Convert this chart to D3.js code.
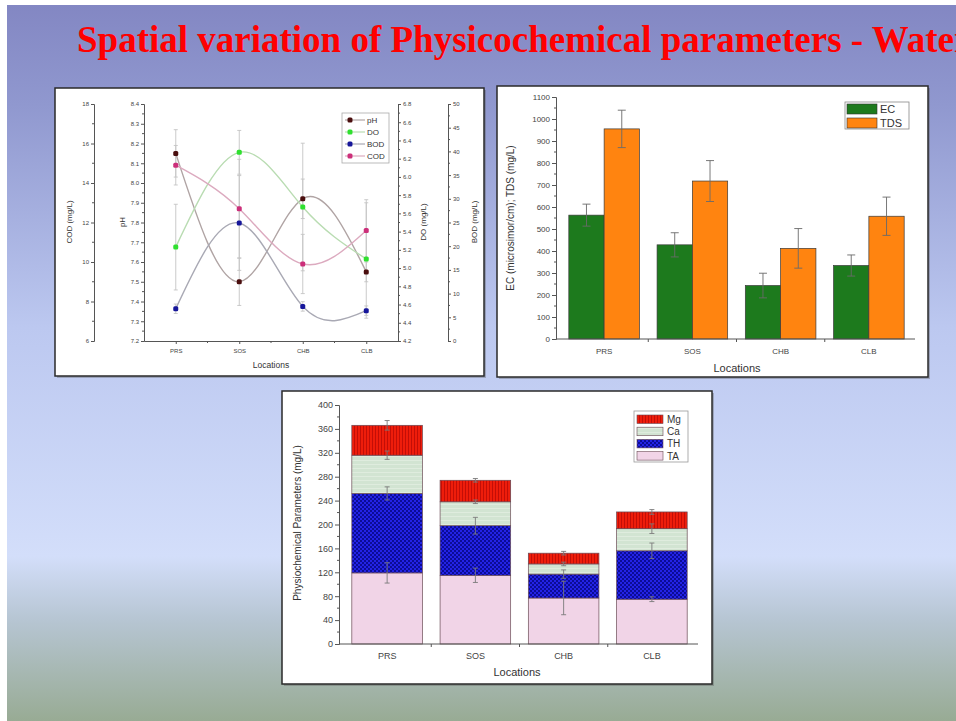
<!DOCTYPE html>
<html><head><meta charset="utf-8">
<script src="https://cdn.jsdelivr.net/npm/d3@7"></script>
<style>body{margin:0;background:#fff}svg{display:block}</style>
</head><body><svg id="c" width="956" height="721"></svg>
<script>
// ---------- data ----------
const locations = ["PRS", "SOS", "CHB", "CLB"];
const titleText = "Spatial variation of Physicochemical parameters - Water";

// panel 1 (line chart, four y axes)
const pH = [8.15, 7.50, 7.92, 7.55];
const pHErr = [0.12, 0.12, 0.10, 0.05];
const DO = [5.23, 6.27, 5.67, 5.10];
const DOErr = [0.47, 0.24, 0.70, 0.65];
const BOD = [6.8, 24.9, 7.3, 6.4];
const BODErr = [1, 10, 1, 1];
const COD = [14.9, 12.7, 9.9, 11.6];
const CODErr = [1.0, 2.5, 1.5, 1.4];
const codTicks = [6, 8, 10, 12, 14, 16, 18];
const pHTicks = [7.2, 7.3, 7.4, 7.5, 7.6, 7.7, 7.8, 7.9, 8.0, 8.1, 8.2, 8.3, 8.4];
const doTicks = [4.2, 4.4, 4.6, 4.8, 5.0, 5.2, 5.4, 5.6, 5.8, 6.0, 6.2, 6.4, 6.6, 6.8];
const bodTicks = [0, 5, 10, 15, 20, 25, 30, 35, 40, 45, 50];

// panel 2 (grouped bars)
const EC = [563, 428, 243, 334];
const ECErr = [50, 55, 56, 48];
const TDS = [955, 718, 412, 558];
const TDSErr = [85, 93, 90, 87];
const ecTicks = [0, 100, 200, 300, 400, 500, 600, 700, 800, 900, 1000, 1100];

// panel 3 (stacked bars) – segment values
const TA = [119, 115, 77, 75];
const TAErr = [17, 12, 28, 4];
const TH = [133, 83, 40, 81];
const THErr = [11, 14, 7, 13];
const Ca = [64, 40, 17, 37];
const CaErr = [7, 3, 3, 8];
const Mg = [50, 36, 18, 28];
const MgErr = [8, 3, 3, 4];
const stackTicks = [0, 40, 80, 120, 160, 200, 240, 280, 320, 360, 400];

// ---------- drawing ----------
const svg = d3.select("#c");
const defs = svg.append("defs");
const SANS = "Liberation Sans, Arial, sans-serif";

const grad = defs.append("linearGradient").attr("id", "bg").attr("x1", 0).attr("y1", 0).attr("x2", 0).attr("y2", 1);
[["0%", "#8387c3"], ["14%", "#9098cf"], ["45%", "#bcc8f0"], ["77%", "#d3defa"], ["86%", "#b6c5d2"], ["100%", "#98ab94"]]
  .forEach(([o, c]) => grad.append("stop").attr("offset", o).attr("stop-color", c));

svg.append("rect").attr("width", 956).attr("height", 721).attr("fill", "#fff");
svg.append("rect").attr("x", 7).attr("y", 5).attr("width", 949).attr("height", 716).attr("fill", "url(#bg)");

svg.append("text").attr("x", 77).attr("y", 52)
  .attr("font-family", "Liberation Serif, Times New Roman, serif").attr("font-weight", "bold")
  .attr("font-size", 37).attr("fill", "#ff0000").text(titleText);

// patterns
function pattern(id, w, h, base, draw) {
  const p = defs.append("pattern").attr("id", id).attr("patternUnits", "userSpaceOnUse").attr("width", w).attr("height", h);
  p.append("rect").attr("width", w).attr("height", h).attr("fill", base);
  draw(p);
}
pattern("pMg", 3, 3, "#ee1d0b", p => p.append("rect").attr("x", 0).attr("width", 0.8).attr("height", 3).attr("fill", "#b80a05"));
pattern("pCa", 4, 4, "#d2e4d2", p => p.append("rect").attr("y", 0).attr("width", 4).attr("height", 1).attr("fill", "#dfecde"));
pattern("pTH", 4, 4, "#2323e6", p => {
  p.append("rect").attr("x", 0).attr("y", 0).attr("width", 2).attr("height", 2).attr("fill", "#0c0c96");
  p.append("rect").attr("x", 2).attr("y", 2).attr("width", 2).attr("height", 2).attr("fill", "#0c0c96");
});
pattern("pTA", 4, 4, "#f1d4e7", p => {});

function panel(x, y, w, h) {
  svg.append("rect").attr("x", x + 2).attr("y", y + 2).attr("width", w).attr("height", h).attr("fill", "#555").attr("opacity", 0.35);
  svg.append("rect").attr("x", x).attr("y", y).attr("width", w).attr("height", h).attr("fill", "#fff").attr("stroke", "#2a2a2a").attr("stroke-width", 1.5);
}
function styleAxis(g, fs) {
  g.selectAll("path").attr("stroke", "#555").attr("stroke-width", 1);
  g.selectAll("line").attr("stroke", "#555");
  g.selectAll("text").attr("font-family", SANS).attr("font-size", fs).attr("fill", "#444");
}
function minorTicks(g, scale, vals, x, dir, len) {
  g.append("g").selectAll("line").data(vals).join("line")
    .attr("x1", x).attr("x2", x + dir * len).attr("y1", d => scale(d)).attr("y2", d => scale(d))
    .attr("stroke", "#555").attr("stroke-width", 1);
}
function mids(t) { const r = []; for (let i = 0; i < t.length - 1; i++) r.push((t[i] + t[i + 1]) / 2); return r; }
function errBar(g, x, y0, y1, cap, color) {
  g.append("line").attr("x1", x).attr("x2", x).attr("y1", y0).attr("y2", y1).attr("stroke", color).attr("stroke-width", 0.9);
  g.append("line").attr("x1", x - cap).attr("x2", x + cap).attr("y1", y0).attr("y2", y0).attr("stroke", color).attr("stroke-width", 0.9);
  g.append("line").attr("x1", x - cap).attr("x2", x + cap).attr("y1", y1).attr("y2", y1).attr("stroke", color).attr("stroke-width", 0.9);
}
function boundaryTicks(g, xs, y0) {
  const d = xs.domain(), step = xs.step();
  const b = d.map(c => xs(c) - (step * xs.paddingOuter()) ).concat([xs(d[d.length - 1]) + xs.bandwidth() + step * xs.paddingOuter()]);
  g.append("g").selectAll("line").data(b.slice(1, -1)).join("line")
    .attr("x1", v => v).attr("x2", v => v).attr("y1", y0).attr("y2", y0 + 3).attr("stroke", "#555");
}

// ===== Panel 1 =====
panel(55, 88, 429, 288);
const g1 = svg.append("g");
const x1 = d3.scalePoint().domain(locations).range([144, 398]).padding(0.5);
const yCOD = d3.scaleLinear().domain([6, 18]).range([341, 104]);
const ypH = d3.scaleLinear().domain([7.2, 8.4]).range([341, 104]);
const yDO = d3.scaleLinear().domain([4.2, 6.8]).range([341, 104]);
const yBOD = d3.scaleLinear().domain([0, 50]).range([341, 104]);

let a;
a = g1.append("g").attr("transform", "translate(94,0)").call(d3.axisLeft(yCOD).tickValues(codTicks).tickSize(3).tickPadding(2).tickFormat(d3.format("d")));
styleAxis(a, 6); minorTicks(a, yCOD, mids(codTicks), 0, -1, 2);
a = g1.append("g").attr("transform", "translate(144,0)").call(d3.axisLeft(ypH).tickValues(pHTicks).tickSize(3).tickPadding(2).tickFormat(d3.format(".1f")));
styleAxis(a, 6); minorTicks(a, ypH, mids(pHTicks), 0, -1, 2);
a = g1.append("g").attr("transform", "translate(398,0)").call(d3.axisRight(yDO).tickValues(doTicks).tickSize(3).tickPadding(2).tickFormat(d3.format(".1f")));
styleAxis(a, 6); minorTicks(a, yDO, mids(doTicks), 0, 1, 2);
a = g1.append("g").attr("transform", "translate(448,0)").call(d3.axisRight(yBOD).tickValues(bodTicks).tickSize(3).tickPadding(2).tickFormat(d3.format("d")));
styleAxis(a, 6); minorTicks(a, yBOD, mids(bodTicks), 0, 1, 2);
a = g1.append("g").attr("transform", "translate(0,341)").call(d3.axisBottom(x1).tickSize(3).tickPadding(5).tickSizeOuter(0));
styleAxis(a, 6);
a.append("g").selectAll("line").data(mids(locations.map(l => x1(l)))).join("line")
  .attr("x1", v => v).attr("x2", v => v).attr("y1", 0).attr("y2", 2).attr("stroke", "#555");

g1.append("text").attr("transform", "translate(72,222) rotate(-90)").attr("text-anchor", "middle")
  .attr("font-family", SANS).attr("font-size", 8).attr("fill", "#333").text("COD (mg/L)");
g1.append("text").attr("transform", "translate(125,222) rotate(-90)").attr("text-anchor", "middle")
  .attr("font-family", SANS).attr("font-size", 8).attr("fill", "#333").text("pH");
g1.append("text").attr("transform", "translate(426,222) rotate(-90)").attr("text-anchor", "middle")
  .attr("font-family", SANS).attr("font-size", 8).attr("fill", "#333").text("DO (mg/L)");
g1.append("text").attr("transform", "translate(477,222) rotate(-90)").attr("text-anchor", "middle")
  .attr("font-family", SANS).attr("font-size", 8).attr("fill", "#333").text("BOD (mg/L)");
g1.append("text").attr("x", 271).attr("y", 368).attr("text-anchor", "middle")
  .attr("font-family", SANS).attr("font-size", 8.5).attr("fill", "#333").text("Locations");

const series1 = [
  { name: "pH", v: pH, e: pHErr, y: ypH, mk: "#4a0e0e", ln: "#b0a4a4" },
  { name: "DO", v: DO, e: DOErr, y: yDO, mk: "#2fe02f", ln: "#b9dcb2" },
  { name: "BOD", v: BOD, e: BODErr, y: yBOD, mk: "#16169a", ln: "#a9a9b4" },
  { name: "COD", v: COD, e: CODErr, y: yCOD, mk: "#cc2f7a", ln: "#dcaabf" }
];
series1.forEach(s => {
  locations.forEach((l, i) => errBar(g1, x1(l), s.y(s.v[i] + s.e[i]), s.y(s.v[i] - s.e[i]), 2, "#c4c4c4"));
});
const line1 = d3.line().curve(d3.curveNatural);
series1.forEach(s => {
  g1.append("path").attr("d", line1(locations.map((l, i) => [x1(l), s.y(s.v[i])])))
    .attr("fill", "none").attr("stroke", s.ln).attr("stroke-width", 1.4);
});
series1.forEach(s => {
  g1.append("g").selectAll("rect").data(s.v).join("rect")
    .attr("x", (d, i) => x1(locations[i]) - 2.5).attr("y", d => s.y(d) - 2.5)
    .attr("width", 5).attr("height", 5).attr("rx", 1.5).attr("fill", s.mk);
});
// legend 1
const lg1 = g1.append("g");
lg1.append("rect").attr("x", 342).attr("y", 113).attr("width", 47).attr("height", 50).attr("fill", "#fff").attr("stroke", "#aaa").attr("stroke-width", 0.8);
series1.forEach((s, i) => {
  const yy = 120 + i * 12;
  lg1.append("line").attr("x1", 345).attr("x2", 365).attr("y1", yy).attr("y2", yy).attr("stroke", s.ln).attr("stroke-width", 1.2);
  lg1.append("rect").attr("x", 347.5).attr("y", yy - 2.5).attr("width", 5).attr("height", 5).attr("rx", 1.5).attr("fill", s.mk);
  lg1.append("text").attr("x", 367).attr("y", yy + 3).attr("font-family", SANS).attr("font-size", 8).attr("fill", "#333").text(s.name);
});

// ===== Panel 2 =====
panel(497, 86, 431, 291);
const g2 = svg.append("g");
const x2 = d3.scaleBand().domain(locations).range([560, 913]).paddingInner(0.2).paddingOuter(0.1);
const x2s = d3.scaleBand().domain(["EC", "TDS"]).range([0, x2.bandwidth()]);
const y2 = d3.scaleLinear().domain([0, 1100]).range([339, 97]);
a = g2.append("g").attr("transform", "translate(556,0)").call(d3.axisLeft(y2).tickValues(ecTicks).tickSize(4).tickPadding(2).tickFormat(d3.format("d")));
styleAxis(a, 8); minorTicks(a, y2, mids(ecTicks), 0, -1, 2);
const ser2 = [{ k: "EC", v: EC, e: ECErr, c: "#1d7a1d" }, { k: "TDS", v: TDS, e: TDSErr, c: "#ff8410" }];
ser2.forEach(s => {
  g2.append("g").selectAll("rect").data(s.v).join("rect")
    .attr("x", (d, i) => x2(locations[i]) + x2s(s.k)).attr("y", d => y2(d))
    .attr("width", x2s.bandwidth()).attr("height", d => y2(0) - y2(d))
    .attr("fill", s.c).attr("stroke", "#3a3a3a").attr("stroke-width", 0.7);
});
ser2.forEach(s => {
  locations.forEach((l, i) => errBar(g2, x2(l) + x2s(s.k) + x2s.bandwidth() / 2, y2(s.v[i] + s.e[i]), y2(s.v[i] - s.e[i]), 4, "#6a6a6a"));
});
a = g2.append("g").attr("transform", "translate(0,339)").call(d3.axisBottom(x2).tickSize(0).tickPadding(9));
a.select("path").attr("d", "M556,0H915");
styleAxis(a, 8); boundaryTicks(a, x2, 0);
g2.append("text").attr("transform", "translate(514,218) rotate(-90)").attr("text-anchor", "middle")
  .attr("font-family", SANS).attr("font-size", 10).attr("fill", "#333").text("EC (microsimor/cm); TDS (mg/L)");
g2.append("text").attr("x", 737).attr("y", 372).attr("text-anchor", "middle")
  .attr("font-family", SANS).attr("font-size", 11).attr("fill", "#333").text("Locations");
const lg2 = g2.append("g");
lg2.append("rect").attr("x", 845).attr("y", 102).attr("width", 64).attr("height", 27).attr("fill", "#fff").attr("stroke", "#888").attr("stroke-width", 0.8);
ser2.forEach((s, i) => {
  const yy = 104 + i * 14;
  lg2.append("rect").attr("x", 847).attr("y", yy).attr("width", 30).attr("height", 10).attr("fill", s.c).attr("stroke", "#333").attr("stroke-width", 0.6);
  lg2.append("text").attr("x", 880).attr("y", yy + 9).attr("font-family", SANS).attr("font-size", 11).attr("fill", "#333").text(s.k);
});

// ===== Panel 3 =====
panel(282, 391, 430, 293);
const g3 = svg.append("g");
const x3 = d3.scaleBand().domain(locations).range([343, 696]).paddingInner(0.2).paddingOuter(0.1);
const y3 = d3.scaleLinear().domain([0, 400]).range([644, 405]);
a = g3.append("g").attr("transform", "translate(339,0)").call(d3.axisLeft(y3).tickValues(stackTicks).tickSize(4).tickPadding(2));
styleAxis(a, 9); minorTicks(a, y3, mids(stackTicks), 0, -1, 2);
const keys3 = ["TA", "TH", "Ca", "Mg"];
const errs3 = { TA: TAErr, TH: THErr, Ca: CaErr, Mg: MgErr };
const fills3 = { TA: "url(#pTA)", TH: "url(#pTH)", Ca: "url(#pCa)", Mg: "url(#pMg)" };
const table3 = locations.map((l, i) => ({ loc: l, TA: TA[i], TH: TH[i], Ca: Ca[i], Mg: Mg[i] }));
const stack3 = d3.stack().keys(keys3)(table3);
stack3.forEach(layer => {
  g3.append("g").selectAll("rect").data(layer).join("rect")
    .attr("x", d => x3(d.data.loc)).attr("y", d => y3(d[1]))
    .attr("width", x3.bandwidth()).attr("height", d => y3(d[0]) - y3(d[1]))
    .attr("fill", fills3[layer.key]).attr("stroke", "#6a4a55").attr("stroke-width", 0.7);
});
stack3.forEach(layer => {
  layer.forEach((d, i) => {
    const e = errs3[layer.key][i];
    errBar(g3, x3(d.data.loc) + x3.bandwidth() / 2, y3(d[1] + e), y3(d[1] - e), 2.5, "#7a7a7a");
  });
});
a = g3.append("g").attr("transform", "translate(0,644)").call(d3.axisBottom(x3).tickSize(0).tickPadding(9));
a.select("path").attr("d", "M339,0H698");
styleAxis(a, 9); boundaryTicks(a, x3, 0);
g3.append("text").attr("transform", "translate(301,523) rotate(-90)").attr("text-anchor", "middle")
  .attr("font-family", SANS).attr("font-size", 10).attr("fill", "#333").text("Physiochemical Parameters (mg/L)");
g3.append("text").attr("x", 517).attr("y", 676).attr("text-anchor", "middle")
  .attr("font-family", SANS).attr("font-size", 11).attr("fill", "#333").text("Locations");
const lg3 = g3.append("g");
lg3.append("rect").attr("x", 634).attr("y", 411).attr("width", 54).attr("height", 51).attr("fill", "#fff").attr("stroke", "#999").attr("stroke-width", 0.8);
["Mg", "Ca", "TH", "TA"].forEach((k, i) => {
  const yy = 415 + i * 12.2;
  lg3.append("rect").attr("x", 637).attr("y", yy).attr("width", 26).attr("height", 8.5).attr("fill", fills3[k]).attr("stroke", "#6a4a55").attr("stroke-width", 0.6);
  lg3.append("text").attr("x", 667).attr("y", yy + 8).attr("font-family", SANS).attr("font-size", 10).attr("fill", "#333").text(k);
});
</script></body></html>
